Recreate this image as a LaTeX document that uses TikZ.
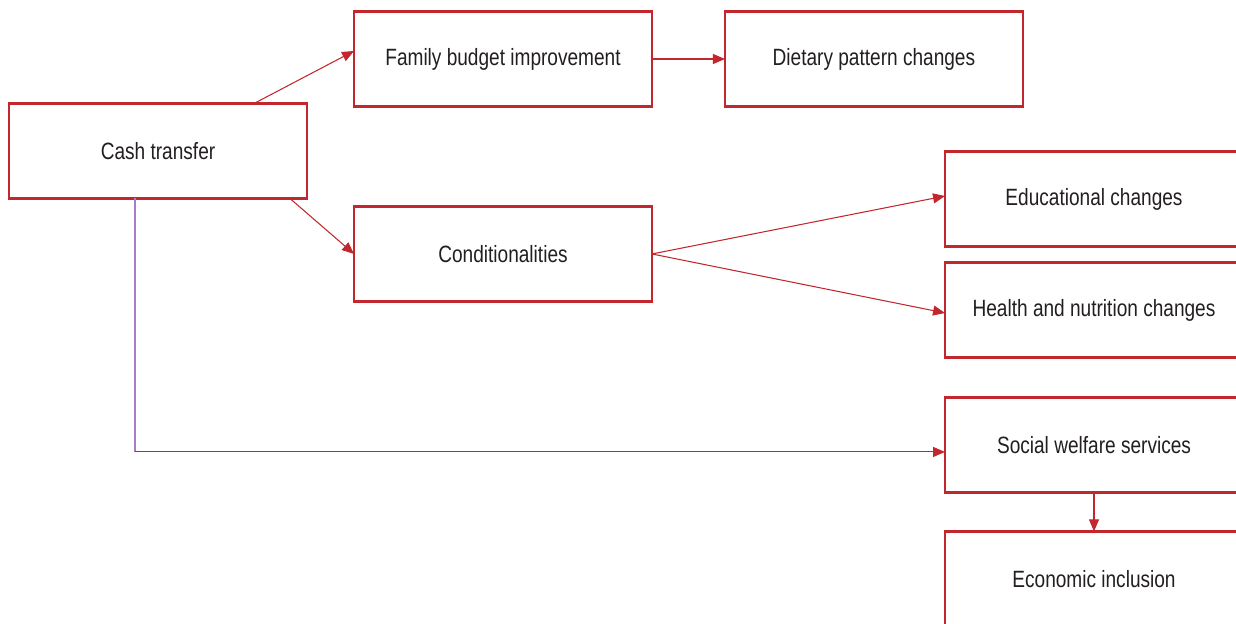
\documentclass[tikz,border=0pt]{standalone}
\usepackage{fontspec}
\setmainfont[FakeStretch=0.81]{Liberation Sans}
\usetikzlibrary{arrows.meta, positioning}

\definecolor{boxred}{HTML}{C1272D}
\definecolor{linkpurple}{HTML}{A77BC9}
\definecolor{inkgray}{HTML}{231F20}

\begin{document}
\begin{tikzpicture}[
    x=0.02cm, y=-0.02cm,
    node distance=1.46cm,
    block/.style={
        rectangle,
        draw=boxred, line width=1.3pt, outer sep=0pt,
        fill=white,
        minimum width=5.96cm, minimum height=1.9cm,
        text=inkgray,
        font=\fontsize{13.4}{16}\selectfont
    },
    arrow/.style={
        -{Triangle[length=0.24cm, width=0.2cm]},
        draw=boxred, line width=0.6pt
    }
]
\useasboundingbox (0,0) rectangle (1236,624);

% Source
\node[block] (cash) at (158,151) {Cash transfer};

% Budget branch
\node[block] (budget) at (503,59) {Family budget improvement};
\node[block, right=of budget] (diet) {Dietary pattern changes};

% Conditionality branch
\node[block, below=2cm of budget] (cond) {Conditionalities};
\node[block] (edu) at (1094,199) {Educational changes};
\node[block, below=0.32cm of edu] (health) {Health and nutrition changes};

% Services branch
\node[block, below=0.8cm of health] (social) {Social welfare services};
\node[block, below=0.78cm of social] (econ) {Economic inclusion};

% Arrows
\draw[arrow] ([xshift=1.92cm]cash.north) -- ([yshift=0.16cm]budget.west);
\draw[arrow] ([xshift=2.64cm]cash.south) -- (cond.west);
\draw[arrow] (budget) -- (diet);
\draw[arrow] (cond.east) -- ([yshift=0.06cm]edu.west);
\draw[arrow] (cond.east) -- ([yshift=-0.06cm]health.west);
\draw[arrow] (social) -- (econ);

% Link down to the services
\coordinate (drop) at ([xshift=-0.46cm]cash.south);
\coordinate (entry) at ([yshift=-0.14cm]social.west);
\coordinate (turn) at (drop |- entry);
\draw[linkpurple, line width=0.6pt] (drop) -- (turn);
\draw[arrow] (turn) -- (entry);

\end{tikzpicture}
\end{document}
